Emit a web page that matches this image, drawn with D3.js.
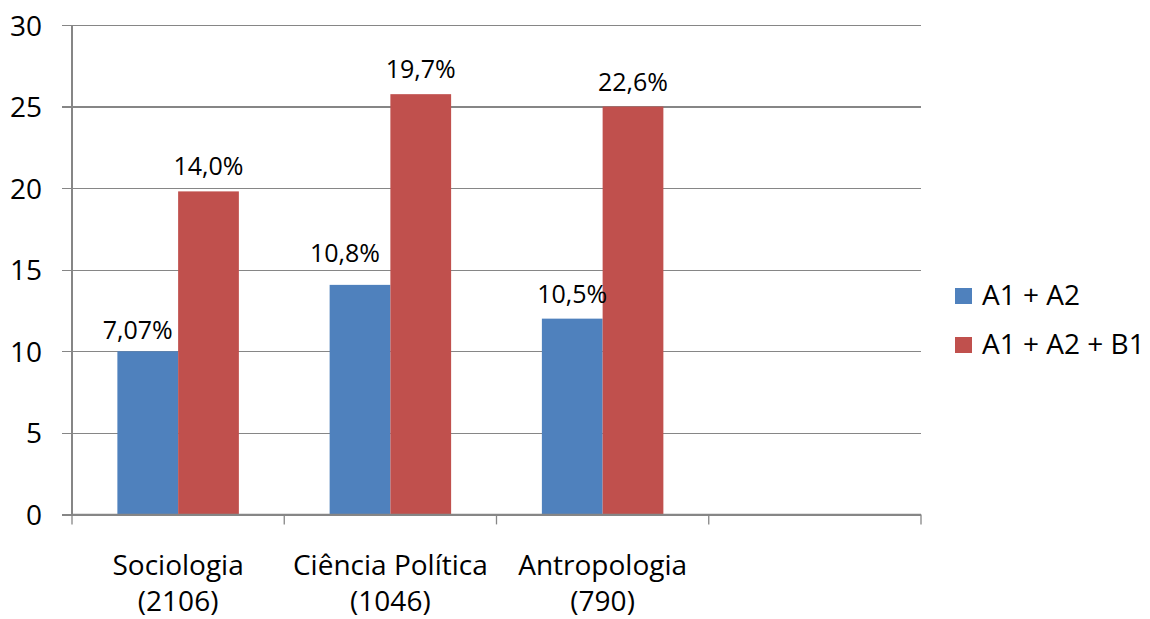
<!DOCTYPE html>
<html>
<head>
<meta charset="utf-8">
<script src="https://cdn.jsdelivr.net/npm/d3@7"></script>
<style>
  html, body { margin: 0; padding: 0; background: #fff; }
  svg { display: block; }
  text { font-family: "Open Sans", "Liberation Sans", sans-serif; fill: #000; }
</style>
</head>
<body>
<svg id="chart" width="1150" height="619"></svg>
<script>
// ---- data ----
const categories = ["Sociologia", "Ciência Política", "Antropologia", ""];
const categoryCounts = ["(2106)", "(1046)", "(790)", ""];
const seriesNames = ["A1 + A2", "A1 + A2 + B1"];
const seriesA1A2 = [10.0, 14.07, 12.0];
const seriesA1A2B1 = [19.8, 25.76, 25.0];
const labelsA1A2 = ["7,07%", "10,8%", "10,5%"];
const labelsA1A2B1 = ["14,0%", "19,7%", "22,6%"];
const yTicks = [0, 5, 10, 15, 20, 25, 30];

// ---- layout / style (not data) ----
const colors = ["#4F81BD", "#C0504D"];
const gridColor = "#868686";
const plot = { left: 72, right: 921, top: 25, bottom: 514.4 };
// manual label nudges [series][category] : [dx, dy]
const labelNudges = [
  [[-10, 4], [-15, -7], [0, 0]],
  [[0, 0], [0, 0], [0, 0]]
];

const svg = d3.select("#chart");
svg.append("rect").attr("width", 1150).attr("height", 619).attr("fill", "#fff");

const x0 = d3.scaleBand().domain(categories.map((c, i) => i)).range([plot.left, plot.right]).paddingInner(0).paddingOuter(0);
const x1 = d3.scaleBand().domain([0, 1]).range([0, x0.bandwidth()]).paddingInner(0).paddingOuter(0.747);
const y = d3.scaleLinear().domain([0, 30]).range([plot.bottom, plot.top]);

// gridlines + y axis via d3 axis
const yAxis = d3.axisLeft(y).tickValues(yTicks).tickSize(-(plot.right - plot.left + 10)).tickSizeOuter(0).tickPadding(20);
const gy = svg.append("g").attr("transform", `translate(${plot.left - 10},0)`).call(yAxis);
gy.select(".domain").remove();
gy.selectAll(".tick line").attr("stroke", gridColor).attr("stroke-width", 1.3).attr("shape-rendering", "crispEdges");
gy.selectAll(".tick text").attr("font-size", 28).attr("fill", "#000").attr("dy", "0.36em")
  .style("font-family", '"Open Sans", sans-serif');

// vertical axis line
svg.append("line").attr("x1", plot.left).attr("x2", plot.left).attr("y1", plot.top).attr("y2", plot.bottom)
  .attr("stroke", gridColor).attr("stroke-width", 1.3).attr("shape-rendering", "crispEdges");

// bars
const series = [seriesA1A2, seriesA1A2B1];
const labels = [labelsA1A2, labelsA1A2B1];
series.forEach((vals, s) => {
  svg.append("g").selectAll("rect").data(vals).join("rect")
    .attr("x", (d, i) => x0(i) + x1(s))
    .attr("width", x1.bandwidth())
    .attr("y", d => y(d))
    .attr("height", d => y(0) - y(d))
    .attr("fill", colors[s]);
});

// x axis (bottom) with category ticks at band edges
const xAxisG = svg.append("g");
xAxisG.append("line").attr("x1", plot.left).attr("x2", plot.right).attr("y1", plot.bottom).attr("y2", plot.bottom)
  .attr("stroke", gridColor).attr("stroke-width", 1.3);
const edges = categories.map((c, i) => x0(i)).concat([plot.right]);
xAxisG.selectAll("line.tk").data(edges).join("line").attr("class", "tk")
  .attr("x1", d => d).attr("x2", d => d).attr("y1", plot.bottom).attr("y2", plot.bottom + 10)
  .attr("stroke", gridColor).attr("stroke-width", 1.3);

// category labels
categories.forEach((c, i) => {
  if (!c) return;
  const cx = x0(i) + x0.bandwidth() / 2;
  const t = svg.append("text").attr("text-anchor", "middle").attr("font-size", 28);
  t.append("tspan").attr("x", cx).attr("y", 575).text(c);
  t.append("tspan").attr("x", cx).attr("y", 611).text(categoryCounts[i]);
});

// data labels
series.forEach((vals, s) => {
  svg.append("g").selectAll("text").data(vals).join("text")
    .attr("text-anchor", "middle")
    .attr("font-size", 25)
    .attr("x", (d, i) => x0(i) + x1(s) + x1.bandwidth() / 2 + labelNudges[s][i][0])
    .attr("y", (d, i) => y(d) - 16 + labelNudges[s][i][1])
    .text((d, i) => labels[s][i]);
});

// legend
const legend = svg.append("g");
seriesNames.forEach((n, s) => {
  const gy0 = 288 + s * 49;
  legend.append("rect").attr("x", 955).attr("y", gy0).attr("width", 17).attr("height", 16).attr("fill", colors[s]);
  legend.append("text").attr("x", 982).attr("y", gy0 + 17).attr("font-size", 28).text(n);
});
</script>
</body>
</html>
